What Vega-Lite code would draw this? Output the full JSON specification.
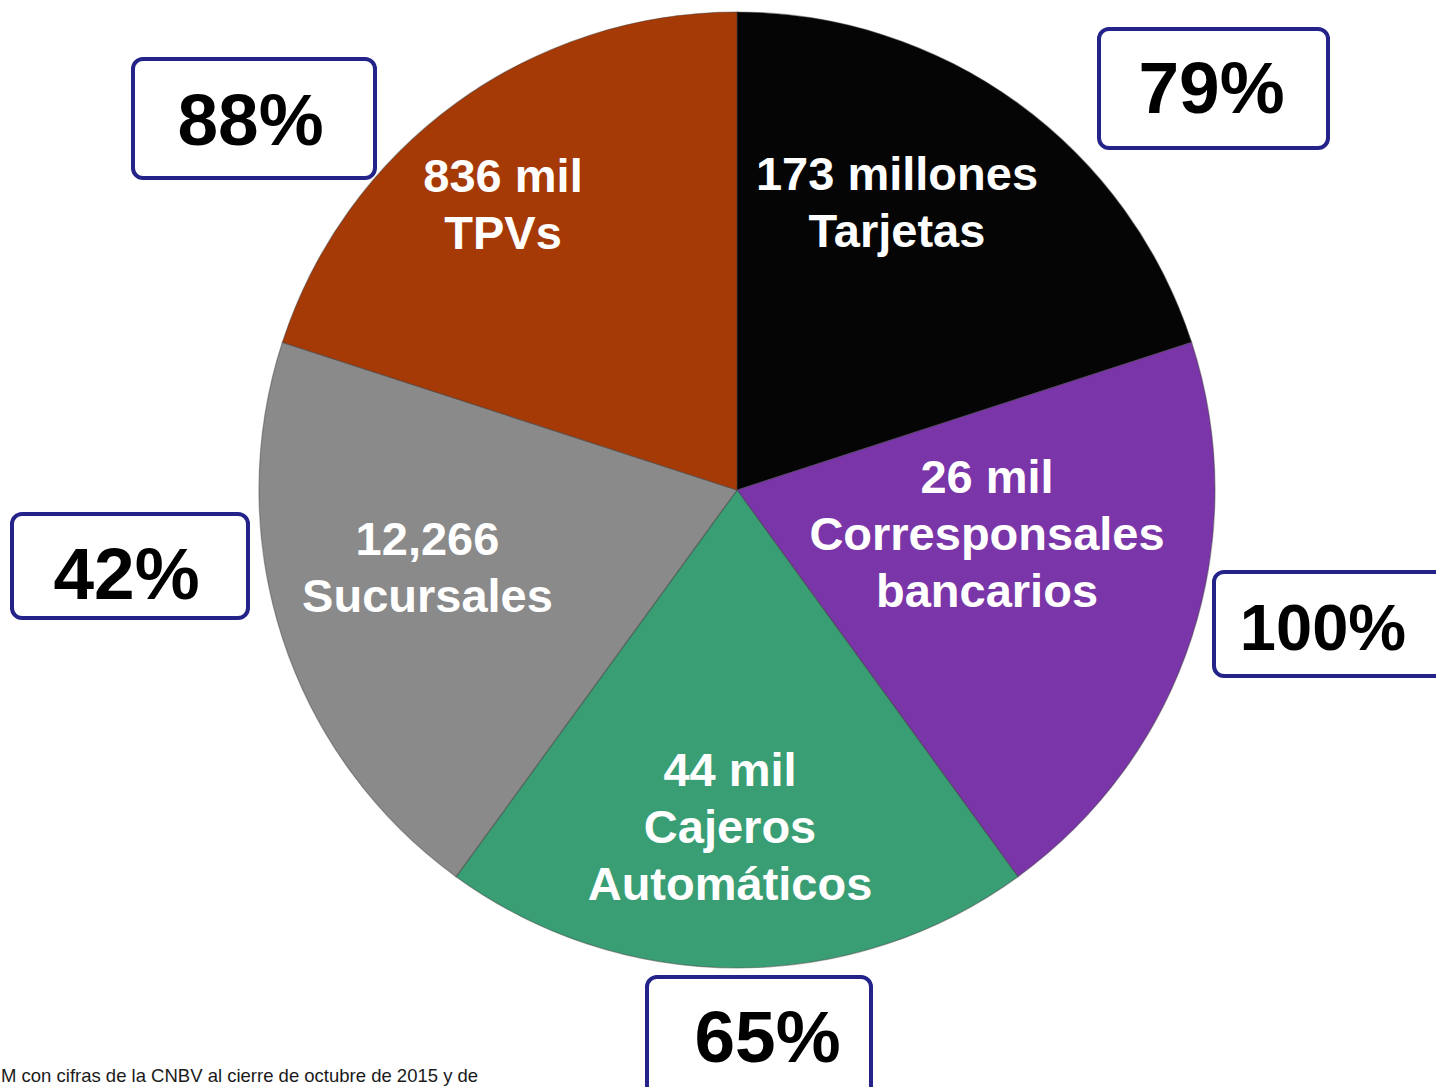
{
  "$schema": "https://vega.github.io/schema/vega-lite/v6.json",
  "width": 1436,
  "height": 1087,
  "autosize": {"type": "none"},
  "padding": 0,
  "background": "#ffffff",
  "config": {"view": {"stroke": null}},
  "datasets": {
    "segmentos": [
      {"categoria": "Tarjetas", "orden": 1, "participacion": 1, "cifra": "173 millones\nTarjetas", "lx": 33.47, "ly": 62.76},
      {"categoria": "Corresponsales bancarios", "orden": 2, "participacion": 1, "cifra": "26 mil\nCorresponsales\nbancarios", "lx": 52.30, "ly": -0.63},
      {"categoria": "Cajeros Automáticos", "orden": 3, "participacion": 1, "cifra": "44 mil\nCajeros\nAutomáticos", "lx": -1.46, "ly": -61.92},
      {"categoria": "Sucursales", "orden": 4, "participacion": 1, "cifra": "12,266\nSucursales", "lx": -64.75, "ly": -13.60},
      {"categoria": "TPVs", "orden": 5, "participacion": 1, "cifra": "836 mil\nTPVs", "lx": -48.95, "ly": 62.34}
    ],
    "coberturas": [
      {"categoria": "Tarjetas", "pct": "79%", "x1": 75.73, "x2": 123.64, "y1": 96.44, "y2": 71.55, "tx": 99.27, "ty": 78.87},
      {"categoria": "Corresponsales bancarios", "pct": "100%", "x1": 99.79, "x2": 149.16, "y1": -17.15, "y2": -38.91, "tx": 122.59, "ty": -33.47},
      {"categoria": "Cajeros Automáticos", "pct": "65%", "x1": -18.83, "x2": 28.03, "y1": -101.88, "y2": -127.62, "tx": 6.38, "ty": -119.67},
      {"categoria": "Sucursales", "pct": "42%", "x1": -151.67, "x2": -102.30, "y1": -5.02, "y2": -26.78, "tx": -127.72, "ty": -22.80},
      {"categoria": "TPVs", "pct": "88%", "x1": -126.36, "x2": -75.73, "y1": 90.17, "y2": 65.27, "tx": -101.78, "ty": 72.18}
    ],
    "nota": [
      {"texto": "M con cifras de la CNBV al cierre de octubre de 2015 y de", "nx": -153.97, "ny": -123.85}
    ]
  },
  "layer": [
    {
      "data": {"name": "segmentos"},
      "mark": {"type": "arc", "outerRadius": 478, "stroke": "#3a3a3a", "strokeWidth": 1.2, "strokeOpacity": 0.45},
      "encoding": {
        "theta": {"field": "participacion", "type": "quantitative", "stack": true},
        "order": {"field": "orden", "type": "quantitative"},
        "color": {
          "field": "categoria",
          "type": "nominal",
          "scale": {
            "domain": ["Tarjetas", "Corresponsales bancarios", "Cajeros Automáticos", "Sucursales", "TPVs"],
            "range": ["#050505", "#7a36a8", "#3a9e74", "#8a8a8a", "#a63a07"]
          },
          "legend": null
        },
        "x": {"datum": 0, "type": "quantitative", "scale": {"domain": [-154.18, 146.23], "nice": false, "zero": false}, "axis": null},
        "y": {"datum": 0, "type": "quantitative", "scale": {"domain": [-124.90, 102.51], "nice": false, "zero": false}, "axis": null}
      }
    },
    {
      "data": {"name": "segmentos"},
      "mark": {"type": "text", "font": "Liberation Sans", "fontSize": 47, "fontWeight": "bold", "color": "#ffffff", "align": "center", "baseline": "alphabetic", "lineBreak": "\n", "lineHeight": 57},
      "encoding": {
        "x": {"field": "lx", "type": "quantitative", "scale": {"domain": [-154.18, 146.23], "nice": false, "zero": false}, "axis": null},
        "y": {"field": "ly", "type": "quantitative", "scale": {"domain": [-124.90, 102.51], "nice": false, "zero": false}, "axis": null},
        "text": {"field": "cifra", "type": "nominal"}
      }
    },
    {
      "data": {"name": "coberturas"},
      "mark": {"type": "rect", "fill": "#ffffff", "stroke": "#23238a", "strokeWidth": 4, "cornerRadius": 10},
      "encoding": {
        "x": {"field": "x1", "type": "quantitative", "scale": {"domain": [-154.18, 146.23], "nice": false, "zero": false}, "axis": null},
        "x2": {"field": "x2"},
        "y": {"field": "y1", "type": "quantitative", "scale": {"domain": [-124.90, 102.51], "nice": false, "zero": false}, "axis": null},
        "y2": {"field": "y2"}
      }
    },
    {
      "data": {"name": "coberturas"},
      "mark": {"type": "text", "font": "Liberation Sans", "fontWeight": "bold", "color": "#000000", "align": "center", "baseline": "alphabetic"},
      "encoding": {
        "x": {"field": "tx", "type": "quantitative", "scale": {"domain": [-154.18, 146.23], "nice": false, "zero": false}, "axis": null},
        "y": {"field": "ty", "type": "quantitative", "scale": {"domain": [-124.90, 102.51], "nice": false, "zero": false}, "axis": null},
        "text": {"field": "pct", "type": "nominal"},
        "size": {"condition": {"test": "datum.pct === '100%'", "value": 65}, "value": 73}
      }
    },
    {
      "data": {"name": "nota"},
      "mark": {"type": "text", "font": "Liberation Sans", "fontSize": 18.5, "color": "#1a1a1a", "align": "left", "baseline": "alphabetic"},
      "encoding": {
        "x": {"field": "nx", "type": "quantitative", "scale": {"domain": [-154.18, 146.23], "nice": false, "zero": false}, "axis": null},
        "y": {"field": "ny", "type": "quantitative", "scale": {"domain": [-124.90, 102.51], "nice": false, "zero": false}, "axis": null},
        "text": {"field": "texto", "type": "nominal"}
      }
    }
  ]
}
